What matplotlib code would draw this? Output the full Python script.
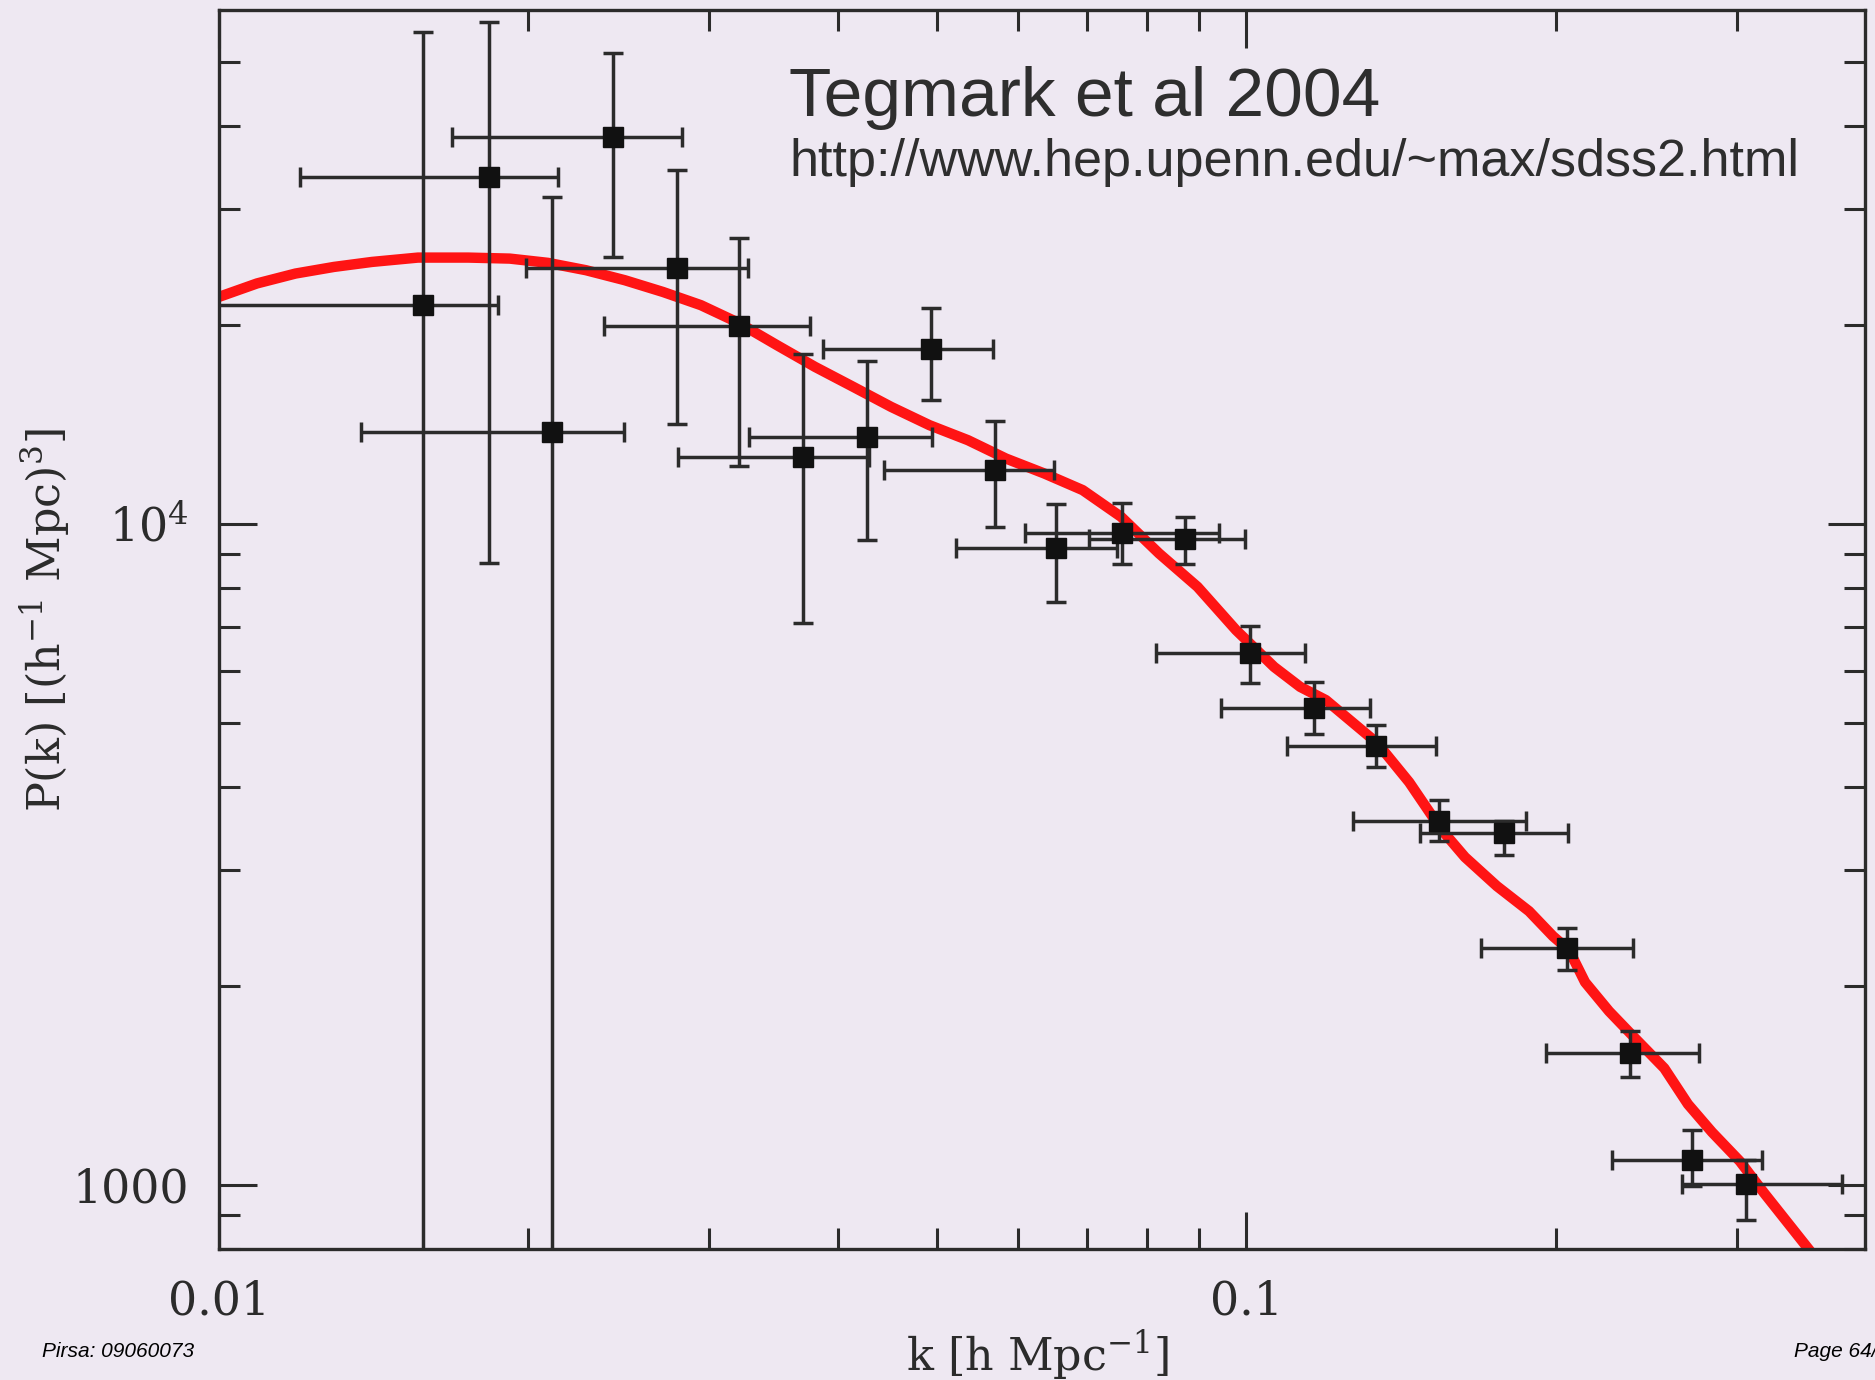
import numpy as np
import matplotlib
matplotlib.use("Agg")
import matplotlib.pyplot as plt
from matplotlib.ticker import NullFormatter

# SDSS galaxy power spectrum band powers
k = [0.0158, 0.0183, 0.0211, 0.0242, 0.0279, 0.0321, 0.0370, 0.0427, 0.0493, 0.0569, 0.0652,
     0.0757, 0.0872, 0.1008, 0.1163, 0.1338, 0.1541, 0.1783, 0.2049, 0.2361, 0.2715, 0.3066]
P = [21500, 33500, 13800, 38500, 24400, 19950, 12640, 13570, 18430, 12070, 9200,
     9710, 9510, 6390, 5270, 4610, 3556, 3410, 2281, 1585, 1092, 1002]
k_lo = [0.0098, 0.0120, 0.01375, 0.01685, 0.0199, 0.0237, 0.0280, 0.0328, 0.0387, 0.0444, 0.0522,
        0.0609, 0.0702, 0.0816, 0.0945, 0.1095, 0.1269, 0.1474, 0.1690, 0.1956, 0.2269, 0.2657]
k_hi = [0.0187, 0.0214, 0.0248, 0.0282, 0.0327, 0.0376, 0.0429, 0.0494, 0.0567, 0.0650, 0.0749,
        0.0940, 0.0997, 0.1140, 0.1318, 0.1531, 0.1871, 0.2055, 0.2380, 0.2759, 0.3179, 0.3795]
P_lo = [600, 8740, 600, 25400, 14160, 12230, 7095, 9470, 15390, 9916, 7617,
        8710, 8710, 5754, 4806, 4292, 3311, 3162, 2116, 1457, 995, 885]
P_hi = [55600, 57500, 31300, 51600, 34350, 27080, 18120, 17670, 21240, 14330, 10737,
        10782, 10254, 7006, 5778, 4971, 3818, 3556, 2449, 1709, 1212, 1092]

# best fit model curve
k_model = [0.0100, 0.01089, 0.01187, 0.01294, 0.01409, 0.01562, 0.01748, 0.01919, 0.02090, 0.02276,
           0.02483, 0.02705, 0.02945, 0.03208, 0.03492, 0.03803, 0.04142, 0.04510, 0.04915, 0.05358,
           0.05834, 0.06359, 0.06929, 0.07551, 0.08222, 0.08961, 0.09770, 0.1064, 0.1128, 0.1195,
           0.1341, 0.1440, 0.1547, 0.1632, 0.1753, 0.1884, 0.1988, 0.2061, 0.2136, 0.2254,
           0.2378, 0.2551, 0.2690, 0.2839, 0.3022, 0.3191, 0.3520]
P_model = [22080, 23140, 23950, 24510, 24940, 25320, 25320, 25230, 24860, 24230,
           23400, 22460, 21450, 20150, 18660, 17300, 16140, 15050, 14120, 13400,
           12570, 11930, 11260, 10260, 9030, 8040, 6914, 6081, 5673, 5417,
           4662, 4070, 3454, 3134, 2833, 2596, 2379, 2266, 2027, 1832,
           1680, 1502, 1325, 1202, 1086, 972, 802]

x_ticks = [0.01, 0.1]
x_ticklabels = ['0.01', '0.1']
y_ticks = [1000, 10000]
y_ticklabels = ['1000', '$10^4$']

bg = '#EEE8F2'
ink = '#2b2b2b'

plt.rcParams['mathtext.fontset'] = 'dejavuserif'
plt.rcParams['font.family'] = 'DejaVu Serif'

W, H = 1875, 1380
fig = plt.figure(figsize=(W / 100, H / 100), dpi=100, facecolor=bg)
ax = fig.add_axes([219 / W, 1 - 1249 / H, (1865 - 219) / W, (1249 - 10) / H])
ax.set_facecolor(bg)
ax.set_xscale('log')
ax.set_yscale('log')
ax.set_xlim(0.01, 0.4)
ax.set_ylim(800, 60000)

k_arr = np.array(k)
P_arr = np.array(P)
xerr = [k_arr - np.array(k_lo), np.array(k_hi) - k_arr]
yerr = [P_arr - np.array(P_lo), np.array(P_hi) - P_arr]

ax.plot(k_model, P_model, color='#FF1414', lw=7.5, solid_joinstyle='round', zorder=2)
ax.errorbar(k, P, xerr=xerr, yerr=yerr, fmt='s', ms=15, mfc='#111111', mec='#111111',
            ecolor=ink, elinewidth=2.5, capsize=7, capthick=2.5, zorder=3)

ax.set_xticks(x_ticks, x_ticklabels)
ax.set_yticks(y_ticks, y_ticklabels)
ax.set_xticks([0.02, 0.03, 0.04, 0.05, 0.06, 0.07, 0.08, 0.09, 0.2, 0.3], minor=True)
ax.set_yticks([800, 900] + [i * 1000 for i in range(2, 10)] + [20000, 30000, 40000, 50000], minor=True)
ax.xaxis.set_minor_formatter(NullFormatter())
ax.yaxis.set_minor_formatter(NullFormatter())

ax.tick_params(which='both', direction='in', top=True, right=True, color=ink, width=2.2,
               labelsize=33, labelcolor=ink)
ax.tick_params(which='major', length=27)
ax.tick_params(which='minor', length=15)
ax.tick_params(axis='x', which='major', pad=22)
ax.tick_params(axis='y', which='major', pad=22)
for s in ax.spines.values():
    s.set_color(ink)
    s.set_linewidth(2.4)

fig.text(1038 / W, 1 - 1355 / H, 'k [h Mpc$^{-1}$]', fontsize=32, color=ink,
         ha='center', va='center')
fig.text(45 / W, 0.551, 'P(k) [(h$^{-1}$ Mpc)$^3$]', fontsize=32, color=ink,
         ha='center', va='center', rotation=90)

fig.text(789 / W, 1 - 116 / H, 'Tegmark et al 2004', fontsize=50, color='#2e2e2e',
         family='Liberation Sans', va='baseline')
fig.text(789 / W, 1 - 176 / H, 'http://www.hep.upenn.edu/~max/sdss2.html', fontsize=37.5,
         color='#2e2e2e', family='Liberation Sans', va='baseline')

fig.text(42 / W, 1 - 1357 / H, 'Pirsa: 09060073', fontsize=15, style='italic',
         family='Liberation Sans', color='black', va='baseline')
fig.text(1794 / W, 1 - 1357 / H, 'Page 64/', fontsize=15, style='italic',
         family='Liberation Sans', color='black', va='baseline')

fig.savefig('out.png', dpi=100, facecolor=bg)
